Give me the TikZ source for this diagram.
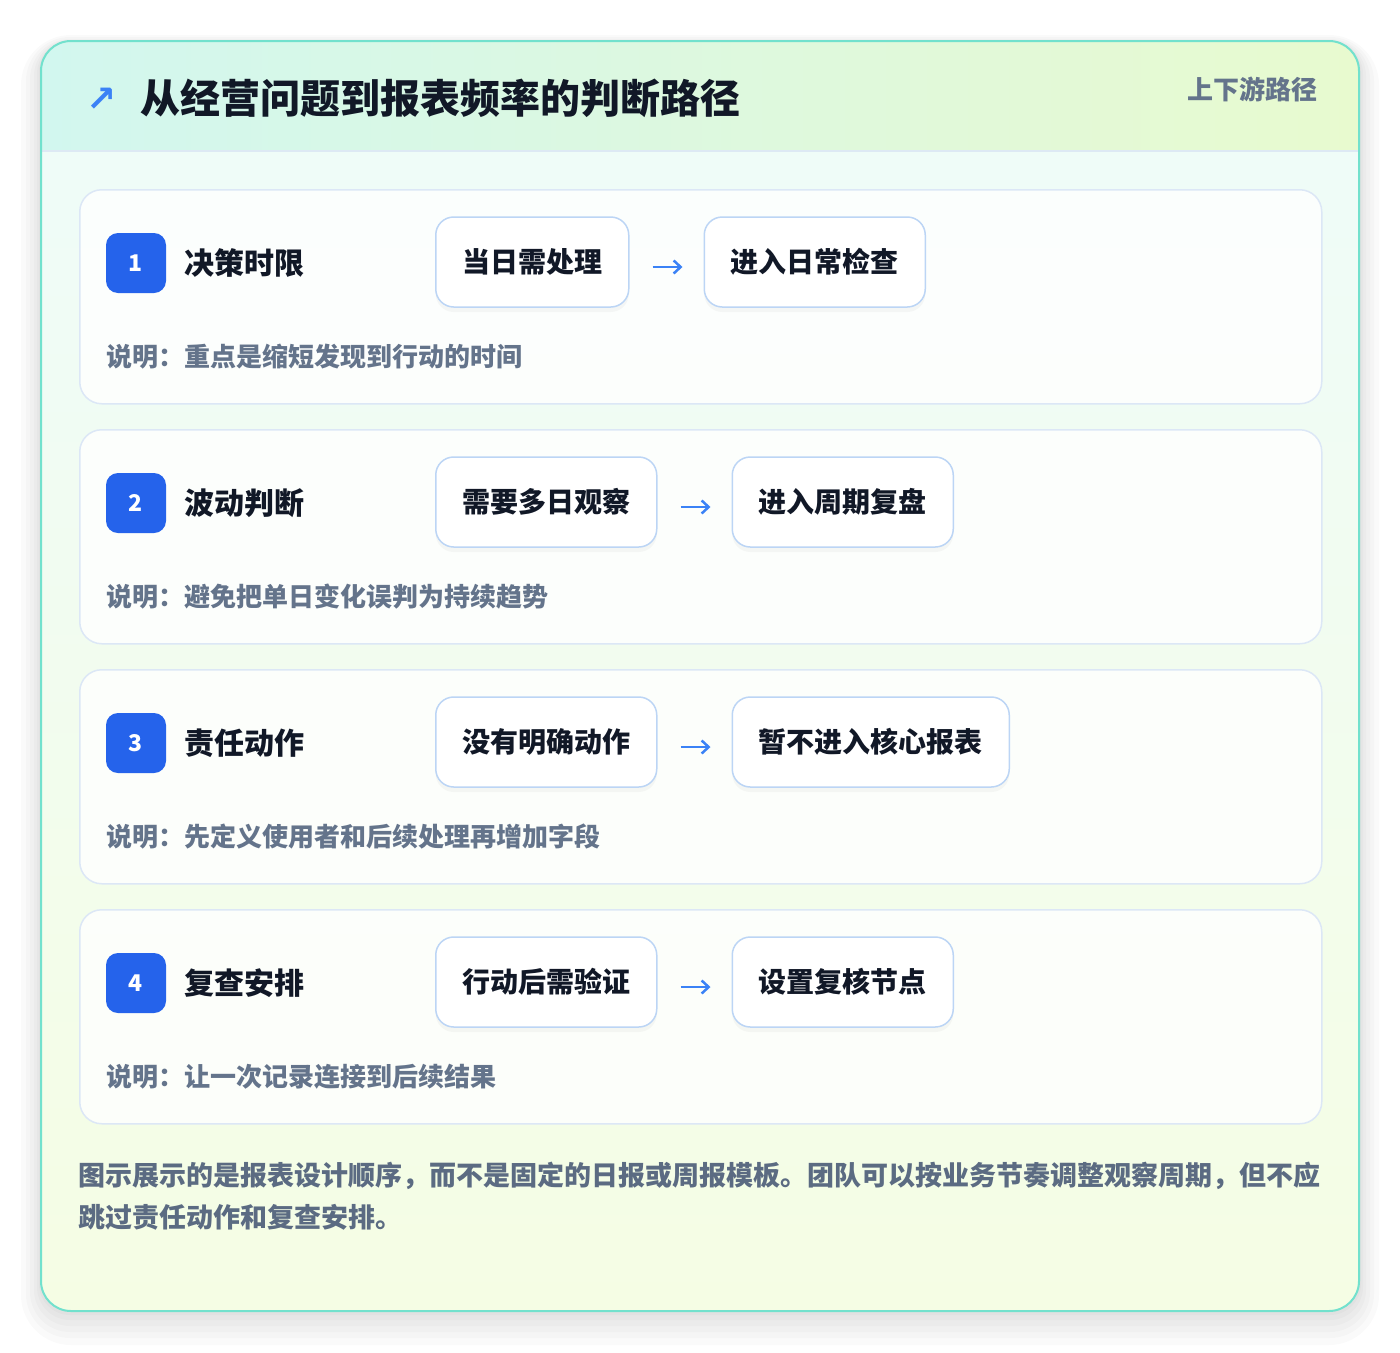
\documentclass[tikz,border=0pt]{standalone}
\usepackage{fontspec}
\setmainfont{Noto Sans CJK SC}
\newfontfamily\heavyfont{Noto Sans CJK SC Black}
\newfontfamily\symfont{DejaVu Sans}
\usepackage{tikz}
\usetikzlibrary{positioning,arrows.meta,shadows}
\definecolor{cardline}{HTML}{72E1CD}
\definecolor{headleft}{HTML}{D2F7EF}
\definecolor{headright}{HTML}{E8FACF}
\definecolor{bodytop}{HTML}{EFFCF8}
\definecolor{bodybottom}{HTML}{F5FDE4}
\definecolor{headrule}{HTML}{DDE9F4}
\definecolor{rowline}{HTML}{DCE7F6}
\definecolor{chipline}{HTML}{BCD5F5}
\definecolor{badgeblue}{HTML}{2563EB}
\definecolor{arrowblue}{HTML}{3B82F6}
\definecolor{inkdark}{HTML}{111827}
\definecolor{inkgray}{HTML}{64748B}
\definecolor{footgray}{HTML}{5B6B82}

\tikzset{
  rowcard/.style={draw=rowline, line width=1.5pt, fill=white, fill opacity=0.8,
    rounded corners=22pt, minimum width=1242pt, minimum height=214pt,
    anchor=north west, inner sep=0pt},
  badge/.style={fill=badgeblue, rounded corners=12pt, minimum size=60pt, inner sep=0pt,
    text=white, font=\bfseries\fontsize{23}{23}\selectfont},
  steplabel/.style={inner sep=0pt, text=inkdark, font=\bfseries\fontsize{30}{30}\selectfont},
  chip/.style={draw=chipline, line width=1.5pt, fill=white, rounded corners=18pt,
    minimum height=90pt, inner xsep=26.5pt, inner ysep=0pt, text=inkdark,
    font=\bfseries\fontsize{28}{28}\selectfont,
    drop shadow={shadow xshift=0pt, shadow yshift=-5pt, opacity=0.06}},
  hint/.style={anchor=west, inner sep=0pt, text=inkgray, font=\bfseries\fontsize{26}{26}\selectfont},
  flowarrow/.style={arrowblue, line width=2.5pt, -{Straight Barb[length=7pt,width=13pt]},
    shorten <=23pt, shorten >=21pt},
  haze/.style={fill=black, fill opacity=0.018}
}

\begin{document}
\begin{tikzpicture}[x=1pt,y=-1pt]
  \useasboundingbox (0,0) rectangle (1400,1352);
  \fill[white] (0,0) rectangle (1400,1352);

  % soft shadow under the card
  \fill[haze, rounded corners=50pt] (21,35) rectangle (1379,1345);
  \fill[haze, rounded corners=44pt] (26,37) rectangle (1374,1338);
  \fill[haze, rounded corners=40pt] (30,39) rectangle (1370,1332);
  \fill[haze, rounded corners=36pt] (34,40) rectangle (1366,1326);
  \fill[haze, rounded corners=33pt] (37,41) rectangle (1363,1320);
  \fill[haze, rounded corners=31pt] (39,41) rectangle (1361,1315);

  % outer card
  \begin{scope}
    \clip[rounded corners=30pt] (41,41) rectangle (1359,1311);
    \shade[top color=bodytop, bottom color=bodybottom] (41,151) rectangle (1359,1311);
    \shade[left color=headleft, right color=headright] (41,41) rectangle (1359,151);
  \end{scope}
  \draw[headrule, line width=1.5pt] (41,151) -- (1359,151);
  \draw[cardline, line width=2pt, rounded corners=30pt] (41,41) rectangle (1359,1311);

  % header
  \node[text=arrowblue, font=\symfont\bfseries\fontsize{36}{36}\selectfont] (icon) at (102,100) {↗};
  \node[anchor=west, inner sep=0pt, text=inkdark, font=\heavyfont\fontsize{40}{40}\selectfont]
    (title) at (140,98) {从经营问题到报表频率的判断路径};
  \node[anchor=east, inner sep=0pt, text=inkgray, font=\bfseries\fontsize{26}{26}\selectfont]
    (tag) at (1318,89) {上下游路径};

  % row 1
  \node[rowcard] (row1) at (79,189) {};
  \node[badge] (num1) at (136,263) {1};
  \node[steplabel, right=18pt of num1] (lab1) {决策时限};
  \node[chip, anchor=west] (from1) at (435,262) {当日需处理};
  \node[chip, right=74pt of from1] (to1) {进入日常检查};
  \draw[flowarrow] ([yshift=-5pt]from1.east) -- ([yshift=-5pt]to1.west);
  \node[hint] (note1) at (106,357) {说明：重点是缩短发现到行动的时间};

  % row 2
  \node[rowcard] (row2) at (79,429) {};
  \node[badge] (num2) at (136,503) {2};
  \node[steplabel, right=18pt of num2] (lab2) {波动判断};
  \node[chip, anchor=west] (from2) at (435,502) {需要多日观察};
  \node[chip, right=74pt of from2] (to2) {进入周期复盘};
  \draw[flowarrow] ([yshift=-5pt]from2.east) -- ([yshift=-5pt]to2.west);
  \node[hint] (note2) at (106,597) {说明：避免把单日变化误判为持续趋势};

  % row 3
  \node[rowcard] (row3) at (79,669) {};
  \node[badge] (num3) at (136,743) {3};
  \node[steplabel, right=18pt of num3] (lab3) {责任动作};
  \node[chip, anchor=west] (from3) at (435,742) {没有明确动作};
  \node[chip, right=74pt of from3] (to3) {暂不进入核心报表};
  \draw[flowarrow] ([yshift=-5pt]from3.east) -- ([yshift=-5pt]to3.west);
  \node[hint] (note3) at (106,837) {说明：先定义使用者和后续处理再增加字段};

  % row 4
  \node[rowcard] (row4) at (79,909) {};
  \node[badge] (num4) at (136,983) {4};
  \node[steplabel, right=18pt of num4] (lab4) {复查安排};
  \node[chip, anchor=west] (from4) at (435,982) {行动后需验证};
  \node[chip, right=74pt of from4] (to4) {设置复核节点};
  \draw[flowarrow] ([yshift=-5pt]from4.east) -- ([yshift=-5pt]to4.west);
  \node[hint] (note4) at (106,1077) {说明：让一次记录连接到后续结果};

  % footer
  \node[anchor=west, align=left, inner sep=0pt, text=footgray,
    font=\bfseries\fontsize{27}{42}\selectfont] (foot) at (78,1196)
    {图示展示的是报表设计顺序，而不是固定的日报或周报模板。团队可以按业务节奏调整观察周期，但不应\\跳过责任动作和复查安排。};
\end{tikzpicture}
\end{document}
